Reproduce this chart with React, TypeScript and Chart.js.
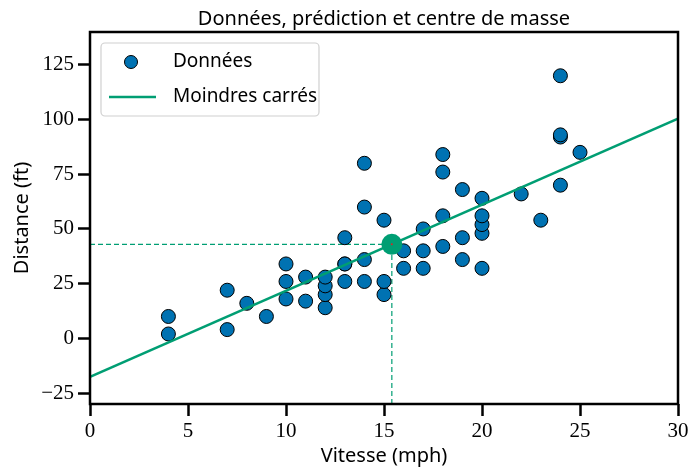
import React, { useEffect, useRef } from "react";
import { Chart, registerables } from "chart.js";

Chart.register(...registerables);

const speed = [4,4,7,7,8,9,10,10,10,11,11,12,12,12,12,13,13,13,13,14,14,14,14,15,15,15,16,16,17,17,17,18,18,18,18,19,19,19,20,20,20,20,20,22,23,24,24,24,24,25];
const dist = [2,10,4,22,16,10,18,26,34,17,28,14,20,24,28,26,34,34,46,26,36,60,80,20,26,54,32,40,32,40,50,42,56,76,84,36,46,68,32,48,52,56,64,66,54,70,92,93,120,85];
const xTicks = [0, 5, 10, 15, 20, 25, 30];
const yTicks = [-25, 0, 25, 50, 75, 100, 125];
const xRange = [0, 30];
const yRange = [-30, 140];
const titleText = "Données, prédiction et centre de masse";
const xLabel = "Vitesse (mph)";
const yLabel = "Distance (ft)";
const legendLabels = ["Données", "Moindres carrés"];

const BLUE = "#0072B2";
const GREEN = "#009E73";
const SANS = "'Noto Sans', sans-serif";
const SERIF = "'Liberation Serif', serif";

function fit() {
  const n = speed.length;
  const mx = speed.reduce((a, b) => a + b, 0) / n;
  const my = dist.reduce((a, b) => a + b, 0) / n;
  let sxy = 0, sxx = 0;
  for (let i = 0; i < n; i++) {
    sxy += (speed[i] - mx) * (dist[i] - my);
    sxx += (speed[i] - mx) ** 2;
  }
  const b = sxy / sxx;
  const a = my - b * mx;
  return { mx, my, a, b };
}

export default function App() {
  const ref = useRef<HTMLCanvasElement | null>(null);
  useEffect(() => {
    const { mx, my, a, b } = fit();
    const deco = {
      id: "deco",
      afterDraw(chart: any) {
        const ctx = chart.ctx;
        const ca = chart.chartArea;
        ctx.save();
        // frame
        ctx.strokeStyle = "#000";
        ctx.lineWidth = 2.5;
        ctx.strokeRect(ca.left, ca.top, ca.right - ca.left, ca.bottom - ca.top);
        // title
        ctx.fillStyle = "#000";
        ctx.font = `20px ${SANS}`;
        ctx.textAlign = "center";
        ctx.textBaseline = "alphabetic";
        ctx.fillText(titleText, (ca.left + ca.right) / 2, 25);
        ctx.fillText(xLabel, (ca.left + ca.right) / 2, 462);
        ctx.save();
        ctx.translate(28, (ca.top + ca.bottom) / 2);
        ctx.rotate(-Math.PI / 2);
        ctx.fillText(yLabel, 0, 0);
        ctx.restore();
        // legend
        const lx = 101, ly = 43, lw = 218, lh = 73;
        ctx.beginPath();
        ctx.roundRect(lx, ly, lw, lh, 4);
        ctx.fillStyle = "rgba(255,255,255,0.8)";
        ctx.fill();
        ctx.strokeStyle = "#d0d0d0";
        ctx.lineWidth = 1.2;
        ctx.stroke();
        ctx.beginPath();
        ctx.arc(131, 62, 6.5, 0, Math.PI * 2);
        ctx.fillStyle = BLUE;
        ctx.fill();
        ctx.strokeStyle = "#000";
        ctx.lineWidth = 1;
        ctx.stroke();
        ctx.beginPath();
        ctx.moveTo(109, 97);
        ctx.lineTo(156, 97);
        ctx.strokeStyle = GREEN;
        ctx.lineWidth = 2.6;
        ctx.stroke();
        ctx.fillStyle = "#000";
        ctx.font = `19px ${SANS}`;
        ctx.textAlign = "left";
        ctx.textBaseline = "middle";
        ctx.fillText(legendLabels[0], 173, 62);
        ctx.fillText(legendLabels[1], 173, 97);
        ctx.restore();
      },
    };
    const chart = new Chart(ref.current!, {
      type: "scatter",
      data: {
        datasets: [
          {
            label: "centre",
            data: [{ x: mx, y: my }],
            pointRadius: 10.5,
            pointBackgroundColor: GREEN,
            pointBorderColor: GREEN,
            pointBorderWidth: 0,
            order: 0,
          },
          {
            label: "pred",
            data: [{ x: mx, y: a + b * mx }],
            pointRadius: 1,
            pointBackgroundColor: "#d62728",
            pointBorderWidth: 0,
            order: -1,
          },
          {
            label: "ls",
            data: [{ x: xRange[0], y: a + b * xRange[0] }, { x: xRange[1], y: a + b * xRange[1] }],
            showLine: true,
            borderColor: GREEN,
            borderWidth: 2.6,
            pointRadius: 0,
            order: 1,
          },
          {
            label: "data",
            data: speed.map((s, i) => ({ x: s, y: dist[i] })),
            pointRadius: 7,
            pointBackgroundColor: BLUE,
            pointBorderColor: "#000",
            pointBorderWidth: 1,
            order: 2,
          },
          {
            label: "h",
            data: [{ x: xRange[0], y: my }, { x: mx, y: my }],
            showLine: true,
            borderColor: GREEN,
            borderWidth: 1.2,
            borderDash: [5, 3],
            pointRadius: 0,
            order: 3,
          },
          {
            label: "v",
            data: [{ x: mx, y: yRange[0] }, { x: mx, y: my }],
            showLine: true,
            borderColor: GREEN,
            borderWidth: 1.2,
            borderDash: [5, 3],
            pointRadius: 0,
            order: 3,
          },
        ],
      },
      options: {
        animation: false,
        responsive: false,
        devicePixelRatio: 1,
        layout: { padding: { top: 32, right: 12, left: 0, bottom: 0 } },
        plugins: { legend: { display: false }, tooltip: { enabled: false } },
        scales: {
          x: {
            type: "linear",
            min: xRange[0],
            max: xRange[1],
            afterBuildTicks: (s: any) => { s.ticks = xTicks.map((v) => ({ value: v })); },
            afterFit: (s: any) => { s.height = 64; s.paddingLeft = 0; s.paddingRight = 0; },
            grid: { drawOnChartArea: false, drawTicks: true, tickLength: 12, tickWidth: 2.5, tickColor: "#000" },
            border: { display: false },
            ticks: {
              color: "#000",
              font: { family: SERIF, size: 21 },
              padding: 3,
              maxRotation: 0,
              callback: (v: any) => String(v).replace("-", "\u2212"),
            },
          },
          y: {
            type: "linear",
            min: yRange[0],
            max: yRange[1],
            afterBuildTicks: (s: any) => { s.ticks = yTicks.map((v) => ({ value: v })); },
            afterFit: (s: any) => { s.width = 90; s.paddingTop = 0; s.paddingBottom = 0; },
            grid: { drawOnChartArea: false, drawTicks: true, tickLength: 12, tickWidth: 2.5, tickColor: "#000" },
            border: { display: false },
            ticks: {
              color: "#000",
              font: { family: SERIF, size: 21 },
              padding: 4,
              callback: (v: any) => String(v).replace("-", "\u2212"),
            },
          },
        },
      },
      plugins: [deco],
    } as any);
    return () => chart.destroy();
  }, []);
  return (
    <div style={{ position: "absolute", left: 0, top: 0, width: 690, height: 468 }}>
      <canvas ref={ref} width={690} height={468} style={{ width: 690, height: 468, display: "block" }} />
    </div>
  );
}
